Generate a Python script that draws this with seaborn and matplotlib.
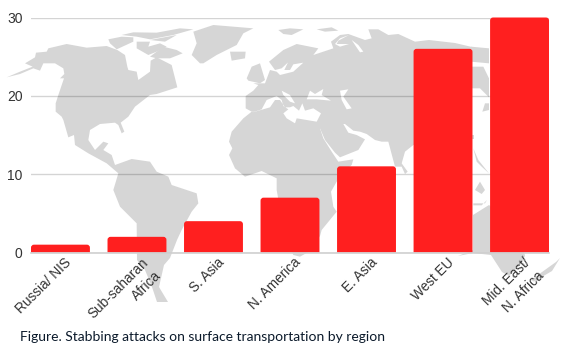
import matplotlib
matplotlib.use("Agg")
import matplotlib.pyplot as plt
import seaborn as sns
from matplotlib.patches import Polygon, PathPatch
from matplotlib.path import Path
from matplotlib.transforms import ScaledTranslation

# data
regions = ["Russia/ NIS", "Sub-saharan\nAfrica", "S. Asia", "N. America",
           "E. Asia", "West EU", "Mid. East/\nN. Africa"]
attacks = [1, 2, 4, 7, 11, 26, 30]
y_ticks = [0, 10, 20, 30]
caption = "Figure. Stabbing attacks on surface transportation by region"

MAP_GREY = "#d6d6d6"
BAR_RED = "#ff1f1f"


def crop(ox, oy, pts):
    # map outlines were traced on 3x crops of the picture
    return [(ox + x / 3, oy + y / 3) for x, y in pts]


def w(pts):
    return crop(0, 0, pts)


def a(pts):
    return crop(225, 20, pts)


def c(pts):
    return crop(225, 110, pts)


def s(pts):
    return crop(465, 20, pts)


land = [
    # north + south america
    w([(20,232),(60,215),(98,200),(75,190),(105,172),(108,158),(140,155),(145,145),(200,132),(260,143),
       (320,138),(352,150),(375,165),(382,200),(385,210),(410,215),(415,240),(450,215),(452,182),(470,172),
       (515,195),(532,262),(470,282),(450,285),(405,320),(385,350),(362,368),(373,395),(365,400),(355,375),
       (345,368),(300,372),(270,390),(265,420),(285,450),(310,425),(325,430),(310,450),(335,465),(345,495),
       (395,477),(450,485),(470,515),(505,530),(515,555),(590,580),(595,610),(575,635),(545,690),(531,720),
       (510,774),(492,795),(477,861),(504,906),(471,906),(456,861),(435,810),(411,780),(410,670),(360,620),
       (340,570),(355,520),(320,490),(265,460),(225,435),(222,405),(205,412),(190,360),(185,350),(167,335),
       (167,310),(175,285),(192,235),(180,235),(193,222),(190,205),(165,190),(130,190),(120,212),(100,205),(60,222)]),
    # arctic islands
    w([(325,118),(365,110),(400,112),(400,125),(350,148),(330,130)]),
    w([(365,105),(400,97),(470,98),(540,85),(580,88),(520,105),(450,118),(410,110)]),
    w([(410,125),(450,125),(445,140),(480,130),(500,140),(470,155),(445,165),(410,145)]),
    w([(450,120),(530,105),(495,125)]),
    w([(450,170),(490,140),(530,150),(548,160),(510,175),(470,175)]),
    # greenland
    w([(580,95),(640,75),(760,85),(730,100),(710,135),(650,165),(610,190),(600,190),(575,165),(590,130)]),
    # iceland, uk
    a([(15,95),(62,95),(60,115),(20,122)]),
    a([(65,175),(80,140),(105,130),(120,180),(105,190),(70,182)]),
    # eurasia
    a([(62,228),(85,212),(100,195),(85,190),(120,190),(135,150),(155,155),(165,165),(205,155),(235,128),
       (205,133),(195,150),(178,150),(190,125),(215,103),(170,145),(150,150),(132,125),(175,90),(215,72),
       (280,85),(265,105),(325,85),(318,65),(345,45),(370,42),(420,60),(440,55),(430,28),(460,28),(490,45),
       (520,42),(570,65)]) + [(429,40), (455,43), (472,47), (472,146)] +
    c([(565,105),(540,125),(530,160),(548,185),(540,192),(530,170),(510,170),(490,95),(470,95),(450,90),
       (425,72),(405,65),(385,62),(360,42),(355,42),(370,68),(395,75),(420,88),(400,120),(345,142),(330,128),
       (300,90),(285,55),(200,0)]) + a([(80,275),(62,265)]),
    # arctic islands north of russia
    a([(160,30),(195,25),(235,28),(200,45),(175,42)]),
    a([(275,28),(320,22),(340,32),(300,35)]),
    # africa
    c([(55,25),(80,5),(165,-5),(290,-10),(285,55),(295,85),(320,125),(340,155),(385,148),(380,165),(350,190),
       (335,215),(318,245),(325,290),(335,305),(290,360),(285,378),(250,426),(225,440),(205,435),(180,380),
       (155,240),(155,205),(110,183),(60,200),(30,175),(12,135),(22,115),(12,95),(20,65)]),
    # far east pieces between the last two bars
    s([(18,80),(72,85),(72,130),(18,125)]),
    s([(20,140),(55,140),(72,175),(72,232),(45,205),(20,205)]),
    s([(52,275),(60,250),(72,250),(72,270)]),
    s([(22,345),(26,345),(26,358),(22,358)]),
    s([(25,385),(40,420),(72,460),(50,440),(35,425)]),
    s([(30,510),(45,485),(60,510),(50,522)]),
    s([(25,550),(60,550),(66,540),(50,556),(25,556)]),
    # australia, new zealand
    [(458,256),(473,250),(473,215),(489,205),(520,230),(525,256),(520,265),(509,276),(502,272),(491,255),(473,253)],
    [(556,262),(560,258),(552,271),(534,281.5),(531,280),(549,267)],
]
seas = [
    # mediterranean
    a([(80,278),(110,268),(125,240),(155,228),(170,240),(175,258),(190,268),(175,280),(185,295),(210,310),
       (215,295),(275,305),(288,280),(265,265),(240,272),(232,250),(222,272),(205,258),(195,262),(180,262),
       (165,240),(150,240),(135,262)]),
    # adriatic, black sea, caspian
    a([(170,212),(195,225),(210,250),(195,245),(175,225)]),
    a([(245,238),(255,212),(270,222),(295,207),(290,225),(318,242),(275,238)]),
    a([(345,212),(370,208),(355,230),(380,265),(365,268),(350,240)]),
    # arctic slivers
    a([(345,55),(372,45),(340,62),(335,72),(372,72),(345,80),(330,72)]),
    a([(380,60),(400,75),(415,95),(405,97),(390,75)]),
]

fig = plt.figure(figsize=(5.64, 3.63), dpi=100)
bg = fig.add_axes([0, 0, 1, 1], zorder=0)
bg.set_xlim(0, 564)
bg.set_ylim(363, 0)
bg.axis("off")
for pts in land:
    bg.add_patch(Polygon(pts, fc=MAP_GREY, ec="none"))
for pts in seas:
    bg.add_patch(Polygon(pts, fc="white", ec="none"))

ax = fig.add_axes([31 / 564, (363 - 252.5) / 363, 518 / 564, 235 / 363], zorder=1)
ax.patch.set_alpha(0)
sns.barplot(x=regions, y=attacks, color=BAR_RED, saturation=1, width=0.77, ax=ax)
ax.set_xlim(-0.385, 6.385)
ax.set_ylim(0, 30)

# rounded top corners
rx, ry = 3 / 76.5, 3 / 7.83
for bar in list(ax.patches):
    x0, bw, h = bar.get_x(), bar.get_width(), bar.get_height()
    x1 = x0 + bw
    verts = [(x0, 0), (x0, h - ry), (x0, h), (x0 + rx, h), (x1 - rx, h), (x1, h), (x1, h - ry), (x1, 0), (x0, 0)]
    codes = [Path.MOVETO, Path.LINETO, Path.CURVE3, Path.CURVE3, Path.LINETO, Path.CURVE3, Path.CURVE3, Path.LINETO, Path.CLOSEPOLY]
    ax.add_patch(PathPatch(Path(verts, codes), fc=BAR_RED, ec="none", zorder=3, clip_on=False))
    bar.remove()

sns.despine(ax=ax, left=True, bottom=True, top=True, right=True)
ax.set_yticks(y_ticks)
ax.yaxis.grid(True, color="black", alpha=0.17, lw=1)
ax.set_axisbelow(True)
ax.axhline(0, color="#d0d0d0", lw=1.2, clip_on=False, zorder=4)
ax.tick_params(axis="both", length=0)
ax.tick_params(axis="y", labelsize=10, labelcolor="#333333", pad=6)
ax.tick_params(axis="x", pad=2)
ax.set_xlabel("")
ax.set_ylabel("")
ax.set_xticks(range(len(regions)))
ax.set_xticklabels(regions, rotation=45, ha="right", va="top", rotation_mode="anchor", ma="right",
                   fontsize=9.8, color="#333333", linespacing=1.4)
# tick_params resets label transforms, so the shift comes after it
offset = ScaledTranslation(4 / 100, 0, fig.dpi_scale_trans)
for lab in ax.get_xticklabels():
    lab.set_transform(lab.get_transform() + offset)
for lab in ax.get_xticklabels() + ax.get_yticklabels():
    lab.set_fontfamily("Liberation Sans")

fig.text(19.5 / 564, 1 - 337 / 363, caption, family="Lato", fontsize=10, color="#0b1a2b", va="center", ha="left")

fig.savefig("out.png", dpi=100)
